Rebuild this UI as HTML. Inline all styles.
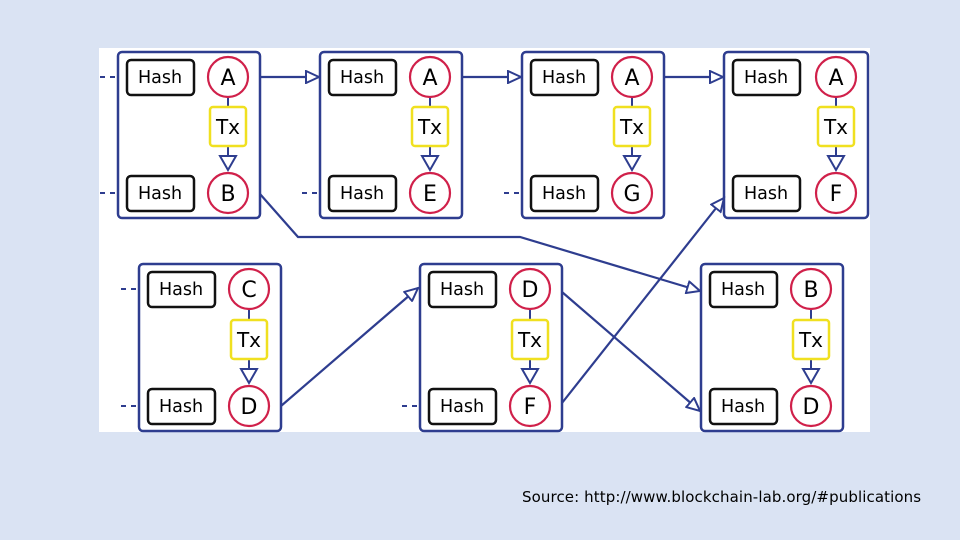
<!DOCTYPE html>
<html><head><meta charset="utf-8"><style>
body{margin:0;background:#dae3f3;width:960px;height:540px;overflow:hidden;font-family:"Liberation Sans",sans-serif}
svg{position:absolute;left:0;top:0}
.src{position:absolute;left:522px;top:488px;font-size:15px;color:#000;font-family:"DejaVu Sans","Liberation Sans",sans-serif;letter-spacing:0.1px;white-space:nowrap}
</style></head><body>
<svg width="960" height="540" viewBox="0 0 960 540">
<defs>
<marker id="ar" markerWidth="16" markerHeight="14" refX="14" refY="7" orient="auto" markerUnits="userSpaceOnUse">
<path d="M1,1 L14,7 L1,13 Z" fill="#fff" stroke="#2e3d8f" stroke-width="2"/>
</marker>
</defs>
<rect x="99" y="48" width="771" height="384" fill="#fff"/>
<g font-size="19" text-anchor="middle" font-family="DejaVu Sans, Liberation Sans, sans-serif">
<g transform="translate(118,52)">
<rect x="0" y="0" width="142" height="166" rx="4" fill="none" stroke="#2e3d8f" stroke-width="2.5"/>
<rect x="9" y="8" width="67" height="35" rx="4" fill="#fff" stroke="#111" stroke-width="2.5"/>
<rect x="9" y="124" width="67" height="35" rx="4" fill="#fff" stroke="#111" stroke-width="2.5"/>
<line x1="110" y1="45" x2="110" y2="55" stroke="#2e3d8f" stroke-width="2"/>
<line x1="110" y1="94" x2="110" y2="104" stroke="#2e3d8f" stroke-width="2"/>
<path d="M102,104 L118,104 L110,118 Z" fill="#fff" stroke="#2e3d8f" stroke-width="2"/>
<rect x="92" y="55" width="36" height="39" rx="3" fill="#fff" stroke="#f0e020" stroke-width="2.5"/>
<circle cx="110" cy="25" r="20" fill="#fff" stroke="#d0204a" stroke-width="2.2"/>
<circle cx="110" cy="141" r="20" fill="#fff" stroke="#d0204a" stroke-width="2.2"/>
<line x1="-18" y1="25" x2="-1" y2="25" stroke="#2e3d8f" stroke-width="2" stroke-dasharray="5,5"/>
<line x1="-18" y1="141" x2="-1" y2="141" stroke="#2e3d8f" stroke-width="2" stroke-dasharray="5,5"/>
<text x="42" y="31" font-size="17.5">Hash</text><text x="42" y="147" font-size="17.5">Hash</text>
<text x="110" y="82" font-size="20">Tx</text>
<text x="110" y="33" font-size="22">A</text><text x="110" y="149" font-size="22">B</text>
</g>
<g transform="translate(320,52)">
<rect x="0" y="0" width="142" height="166" rx="4" fill="none" stroke="#2e3d8f" stroke-width="2.5"/>
<rect x="9" y="8" width="67" height="35" rx="4" fill="#fff" stroke="#111" stroke-width="2.5"/>
<rect x="9" y="124" width="67" height="35" rx="4" fill="#fff" stroke="#111" stroke-width="2.5"/>
<line x1="110" y1="45" x2="110" y2="55" stroke="#2e3d8f" stroke-width="2"/>
<line x1="110" y1="94" x2="110" y2="104" stroke="#2e3d8f" stroke-width="2"/>
<path d="M102,104 L118,104 L110,118 Z" fill="#fff" stroke="#2e3d8f" stroke-width="2"/>
<rect x="92" y="55" width="36" height="39" rx="3" fill="#fff" stroke="#f0e020" stroke-width="2.5"/>
<circle cx="110" cy="25" r="20" fill="#fff" stroke="#d0204a" stroke-width="2.2"/>
<circle cx="110" cy="141" r="20" fill="#fff" stroke="#d0204a" stroke-width="2.2"/>
<line x1="-18" y1="141" x2="-1" y2="141" stroke="#2e3d8f" stroke-width="2" stroke-dasharray="5,5"/>
<text x="42" y="31" font-size="17.5">Hash</text><text x="42" y="147" font-size="17.5">Hash</text>
<text x="110" y="82" font-size="20">Tx</text>
<text x="110" y="33" font-size="22">A</text><text x="110" y="149" font-size="22">E</text>
</g>
<g transform="translate(522,52)">
<rect x="0" y="0" width="142" height="166" rx="4" fill="none" stroke="#2e3d8f" stroke-width="2.5"/>
<rect x="9" y="8" width="67" height="35" rx="4" fill="#fff" stroke="#111" stroke-width="2.5"/>
<rect x="9" y="124" width="67" height="35" rx="4" fill="#fff" stroke="#111" stroke-width="2.5"/>
<line x1="110" y1="45" x2="110" y2="55" stroke="#2e3d8f" stroke-width="2"/>
<line x1="110" y1="94" x2="110" y2="104" stroke="#2e3d8f" stroke-width="2"/>
<path d="M102,104 L118,104 L110,118 Z" fill="#fff" stroke="#2e3d8f" stroke-width="2"/>
<rect x="92" y="55" width="36" height="39" rx="3" fill="#fff" stroke="#f0e020" stroke-width="2.5"/>
<circle cx="110" cy="25" r="20" fill="#fff" stroke="#d0204a" stroke-width="2.2"/>
<circle cx="110" cy="141" r="20" fill="#fff" stroke="#d0204a" stroke-width="2.2"/>
<line x1="-18" y1="141" x2="-1" y2="141" stroke="#2e3d8f" stroke-width="2" stroke-dasharray="5,5"/>
<text x="42" y="31" font-size="17.5">Hash</text><text x="42" y="147" font-size="17.5">Hash</text>
<text x="110" y="82" font-size="20">Tx</text>
<text x="110" y="33" font-size="22">A</text><text x="110" y="149" font-size="22">G</text>
</g>
<g transform="translate(724,52)">
<rect x="0" y="0" width="144" height="166" rx="4" fill="none" stroke="#2e3d8f" stroke-width="2.5"/>
<rect x="9" y="8" width="67" height="35" rx="4" fill="#fff" stroke="#111" stroke-width="2.5"/>
<rect x="9" y="124" width="67" height="35" rx="4" fill="#fff" stroke="#111" stroke-width="2.5"/>
<line x1="112" y1="45" x2="112" y2="55" stroke="#2e3d8f" stroke-width="2"/>
<line x1="112" y1="94" x2="112" y2="104" stroke="#2e3d8f" stroke-width="2"/>
<path d="M104,104 L120,104 L112,118 Z" fill="#fff" stroke="#2e3d8f" stroke-width="2"/>
<rect x="94" y="55" width="36" height="39" rx="3" fill="#fff" stroke="#f0e020" stroke-width="2.5"/>
<circle cx="112" cy="25" r="20" fill="#fff" stroke="#d0204a" stroke-width="2.2"/>
<circle cx="112" cy="141" r="20" fill="#fff" stroke="#d0204a" stroke-width="2.2"/>
<text x="42" y="31" font-size="17.5">Hash</text><text x="42" y="147" font-size="17.5">Hash</text>
<text x="112" y="82" font-size="20">Tx</text>
<text x="112" y="33" font-size="22">A</text><text x="112" y="149" font-size="22">F</text>
</g>
<g transform="translate(139,264)">
<rect x="0" y="0" width="142" height="167" rx="4" fill="none" stroke="#2e3d8f" stroke-width="2.5"/>
<rect x="9" y="8" width="67" height="35" rx="4" fill="#fff" stroke="#111" stroke-width="2.5"/>
<rect x="9" y="125" width="67" height="35" rx="4" fill="#fff" stroke="#111" stroke-width="2.5"/>
<line x1="110" y1="45" x2="110" y2="56" stroke="#2e3d8f" stroke-width="2"/>
<line x1="110" y1="95" x2="110" y2="105" stroke="#2e3d8f" stroke-width="2"/>
<path d="M102,105 L118,105 L110,119 Z" fill="#fff" stroke="#2e3d8f" stroke-width="2"/>
<rect x="92" y="56" width="36" height="39" rx="3" fill="#fff" stroke="#f0e020" stroke-width="2.5"/>
<circle cx="110" cy="25" r="20" fill="#fff" stroke="#d0204a" stroke-width="2.2"/>
<circle cx="110" cy="142" r="20" fill="#fff" stroke="#d0204a" stroke-width="2.2"/>
<line x1="-18" y1="25" x2="-1" y2="25" stroke="#2e3d8f" stroke-width="2" stroke-dasharray="5,5"/>
<line x1="-18" y1="142" x2="-1" y2="142" stroke="#2e3d8f" stroke-width="2" stroke-dasharray="5,5"/>
<text x="42" y="31" font-size="17.5">Hash</text><text x="42" y="148" font-size="17.5">Hash</text>
<text x="110" y="83" font-size="20">Tx</text>
<text x="110" y="33" font-size="22">C</text><text x="110" y="150" font-size="22">D</text>
</g>
<g transform="translate(420,264)">
<rect x="0" y="0" width="142" height="167" rx="4" fill="none" stroke="#2e3d8f" stroke-width="2.5"/>
<rect x="9" y="8" width="67" height="35" rx="4" fill="#fff" stroke="#111" stroke-width="2.5"/>
<rect x="9" y="125" width="67" height="35" rx="4" fill="#fff" stroke="#111" stroke-width="2.5"/>
<line x1="110" y1="45" x2="110" y2="56" stroke="#2e3d8f" stroke-width="2"/>
<line x1="110" y1="95" x2="110" y2="105" stroke="#2e3d8f" stroke-width="2"/>
<path d="M102,105 L118,105 L110,119 Z" fill="#fff" stroke="#2e3d8f" stroke-width="2"/>
<rect x="92" y="56" width="36" height="39" rx="3" fill="#fff" stroke="#f0e020" stroke-width="2.5"/>
<circle cx="110" cy="25" r="20" fill="#fff" stroke="#d0204a" stroke-width="2.2"/>
<circle cx="110" cy="142" r="20" fill="#fff" stroke="#d0204a" stroke-width="2.2"/>
<line x1="-18" y1="142" x2="-1" y2="142" stroke="#2e3d8f" stroke-width="2" stroke-dasharray="5,5"/>
<text x="42" y="31" font-size="17.5">Hash</text><text x="42" y="148" font-size="17.5">Hash</text>
<text x="110" y="83" font-size="20">Tx</text>
<text x="110" y="33" font-size="22">D</text><text x="110" y="150" font-size="22">F</text>
</g>
<g transform="translate(701,264)">
<rect x="0" y="0" width="142" height="167" rx="4" fill="none" stroke="#2e3d8f" stroke-width="2.5"/>
<rect x="9" y="8" width="67" height="35" rx="4" fill="#fff" stroke="#111" stroke-width="2.5"/>
<rect x="9" y="125" width="67" height="35" rx="4" fill="#fff" stroke="#111" stroke-width="2.5"/>
<line x1="110" y1="45" x2="110" y2="56" stroke="#2e3d8f" stroke-width="2"/>
<line x1="110" y1="95" x2="110" y2="105" stroke="#2e3d8f" stroke-width="2"/>
<path d="M102,105 L118,105 L110,119 Z" fill="#fff" stroke="#2e3d8f" stroke-width="2"/>
<rect x="92" y="56" width="36" height="39" rx="3" fill="#fff" stroke="#f0e020" stroke-width="2.5"/>
<circle cx="110" cy="25" r="20" fill="#fff" stroke="#d0204a" stroke-width="2.2"/>
<circle cx="110" cy="142" r="20" fill="#fff" stroke="#d0204a" stroke-width="2.2"/>
<text x="42" y="31" font-size="17.5">Hash</text><text x="42" y="148" font-size="17.5">Hash</text>
<text x="110" y="83" font-size="20">Tx</text>
<text x="110" y="33" font-size="22">B</text><text x="110" y="150" font-size="22">D</text>
</g>
</g>
<g stroke="#2e3d8f" stroke-width="2.2" fill="none">
<line x1="260" y1="77" x2="319" y2="77" marker-end="url(#ar)"/>
<line x1="462" y1="77" x2="521" y2="77" marker-end="url(#ar)"/>
<line x1="664" y1="77" x2="723" y2="77" marker-end="url(#ar)"/>
<polyline points="260,194 298,237 520,237 700,291" marker-end="url(#ar)"/>
<line x1="281" y1="406" x2="418" y2="288" marker-end="url(#ar)"/>
<line x1="562" y1="292" x2="700" y2="411" marker-end="url(#ar)"/>
<line x1="562" y1="403" x2="724" y2="198" marker-end="url(#ar)"/>
</g>
</svg>
<div class="src">Source: http://www.blockchain-lab.org/#publications</div>
</body></html>
